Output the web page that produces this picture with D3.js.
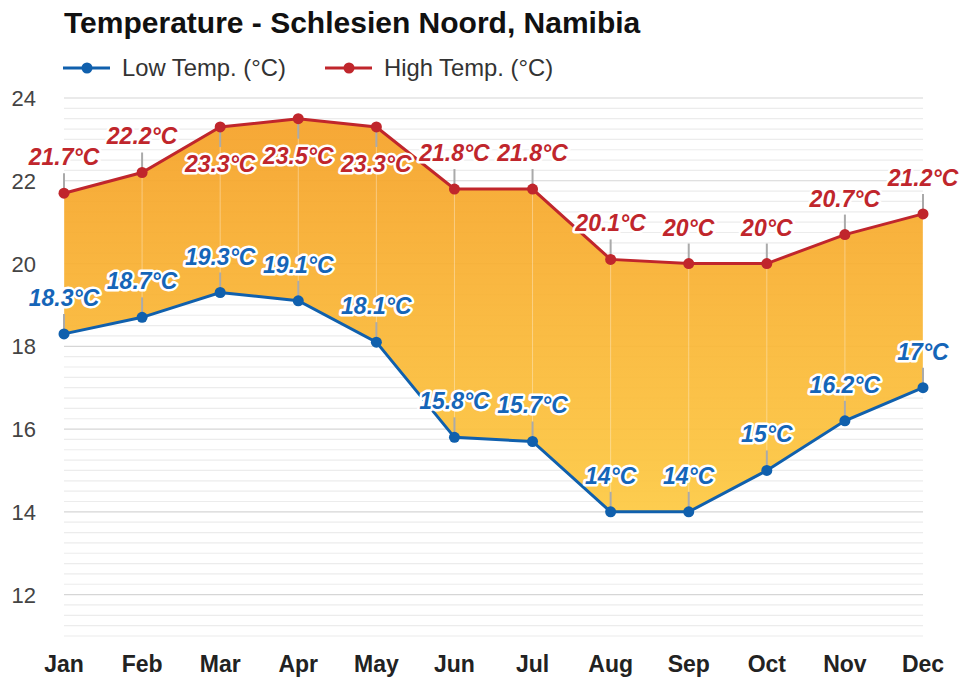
<!DOCTYPE html>
<html>
<head>
<meta charset="utf-8">
<script src="https://cdn.jsdelivr.net/npm/d3@7"></script>
<style>
  body { margin: 0; background: #fff; }
  svg { display: block; font-family: "Liberation Sans", Arial, sans-serif; }
</style>
</head>
<body>
<div id="chart"></div>
<script>
// data
const months = ["Jan", "Feb", "Mar", "Apr", "May", "Jun", "Jul", "Aug", "Sep", "Oct", "Nov", "Dec"];
const highTemp = [21.7, 22.2, 23.3, 23.5, 23.3, 21.8, 21.8, 20.1, 20, 20, 20.7, 21.2];
const lowTemp = [18.3, 18.7, 19.3, 19.1, 18.1, 15.8, 15.7, 14, 14, 15, 16.2, 17];
const yTicks = [12, 14, 16, 18, 20, 22, 24];
// which high labels sit under the point (top of chart is crowded)
const highBelow = ["Mar", "Apr", "May"];

const width = 961, height = 679;
const margin = { top: 98, right: 38, bottom: 43, left: 64 };

const svg = d3.select('#chart').append('svg')
    .attr('width', width)
    .attr('height', height);

const x = d3.scalePoint()
    .domain(months)
    .range([margin.left, width - margin.right]);

const y = d3.scaleLinear()
    .domain([11, 24])
    .range([height - margin.bottom, margin.top]);

const rows = months.map((m, i) => ({ month: m, high: highTemp[i], low: lowTemp[i] }));

// gradient for the band
const defs = svg.append('defs');
const grad = defs.append('linearGradient')
    .attr('id', 'band')
    .attr('gradientUnits', 'userSpaceOnUse')
    .attr('x1', 0).attr('x2', 0)
    .attr('y1', y(24)).attr('y2', y(14));
grad.append('stop').attr('offset', '0%').attr('stop-color', '#f59f26');
grad.append('stop').attr('offset', '100%').attr('stop-color', '#fdc942');

// grid lines, minor every 0.25, major every 2
const minor = d3.range(11, 24.01, 0.25);
svg.append('g')
  .selectAll('line')
  .data(minor)
  .join('line')
    .attr('x1', x.range()[0])
    .attr('x2', x.range()[1])
    .attr('y1', d => y(d))
    .attr('y2', d => y(d))
    .attr('stroke', d => (Math.abs(d % 2) < 1e-6 ? '#d6d6d6' : '#ececec'))
    .attr('stroke-width', 1.2);

// y axis labels
svg.append('g')
  .selectAll('text')
  .data(yTicks)
  .join('text')
    .attr('x', 36)
    .attr('y', d => y(d) + 8)
    .attr('text-anchor', 'end')
    .attr('font-size', '22px')
    .attr('fill', '#444')
    .text(d => d);

// band between low and high
const area = d3.area()
    .x(d => x(d.month))
    .y0(d => y(d.low))
    .y1(d => y(d.high));

svg.append('path')
    .datum(rows)
    .attr('d', area)
    .attr('fill', 'url(#band)')
    .attr('opacity', 0.93);

// vertical month lines inside the band
svg.append('g')
  .selectAll('line')
  .data(rows)
  .join('line')
    .attr('x1', d => x(d.month))
    .attr('x2', d => x(d.month))
    .attr('y1', d => y(d.high))
    .attr('y2', d => y(d.low))
    .attr('stroke', '#fff')
    .attr('stroke-opacity', 0.35)
    .attr('stroke-width', 1);

// stems from point to label
const stem = 20;
svg.append('g')
  .selectAll('line')
  .data(rows)
  .join('line')
    .attr('x1', d => x(d.month))
    .attr('x2', d => x(d.month))
    .attr('y1', d => y(d.high))
    .attr('y2', d => y(d.high) + (highBelow.includes(d.month) ? stem : -stem))
    .attr('stroke', '#aaa')
    .attr('stroke-width', 2);

svg.append('g')
  .selectAll('line')
  .data(rows)
  .join('line')
    .attr('x1', d => x(d.month))
    .attr('x2', d => x(d.month))
    .attr('y1', d => y(d.low))
    .attr('y2', d => y(d.low) - stem)
    .attr('stroke', '#aaa')
    .attr('stroke-width', 2);

// lines and points
const series = [
  { key: 'low', color: '#1060ad' },
  { key: 'high', color: '#c0262c' }
];

series.forEach(s => {
  svg.append('path')
      .datum(rows)
      .attr('d', d3.line().x(d => x(d.month)).y(d => y(d[s.key])))
      .attr('fill', 'none')
      .attr('stroke', s.color)
      .attr('stroke-width', 3);

  svg.append('g')
    .selectAll('circle')
    .data(rows)
    .join('circle')
      .attr('cx', d => x(d.month))
      .attr('cy', d => y(d[s.key]))
      .attr('r', 5.5)
      .attr('fill', s.color);
});

// value labels
function valueLabels(key, color) {
  svg.append('g')
    .selectAll('text')
    .data(rows)
    .join('text')
      .attr('x', d => x(d.month))
      .attr('y', d => {
        const below = key === 'high' && highBelow.includes(d.month);
        return y(d[key]) + (below ? 45 : -28);
      })
      .attr('text-anchor', 'middle')
      .attr('font-size', '23px')
      .attr('font-weight', 'bold')
      .attr('font-style', 'italic')
      .attr('fill', color)
      .attr('stroke', '#fff')
      .attr('stroke-width', 5)
      .attr('stroke-linejoin', 'round')
      .attr('paint-order', 'stroke')
      .text(d => d[key] + '°C');
}
valueLabels('high', '#c0262c');
valueLabels('low', '#1565b8');

// x axis labels
svg.append('g')
  .selectAll('text')
  .data(months)
  .join('text')
    .attr('x', d => x(d))
    .attr('y', 672)
    .attr('text-anchor', 'middle')
    .attr('font-size', '23px')
    .attr('font-weight', 'bold')
    .attr('fill', '#222')
    .text(d => d);

// title
svg.append('text')
    .attr('x', 64)
    .attr('y', 33)
    .attr('font-size', '30px')
    .attr('font-weight', 'bold')
    .attr('fill', '#111')
    .text('Temperature - Schlesien Noord, Namibia');

// legend
const legend = [
  { name: 'Low Temp. (°C)', color: '#1060ad', x: 63 },
  { name: 'High Temp. (°C)', color: '#c0262c', x: 325 }
];
const lg = svg.append('g')
  .selectAll('g')
  .data(legend)
  .join('g')
    .attr('transform', d => `translate(${d.x},68)`);
lg.append('line')
    .attr('x1', 0).attr('x2', 47)
    .attr('stroke', d => d.color)
    .attr('stroke-width', 3);
lg.append('circle')
    .attr('cx', 24)
    .attr('r', 5.5)
    .attr('fill', d => d.color);
lg.append('text')
    .attr('x', 59)
    .attr('y', 8)
    .attr('font-size', '23.8px')
    .attr('fill', '#333')
    .text(d => d.name);
</script>
</body>
</html>
